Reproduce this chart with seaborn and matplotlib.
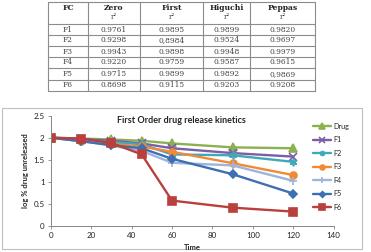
import matplotlib
matplotlib.use('Agg')
import matplotlib.pyplot as plt
from matplotlib.patches import Rectangle
import numpy as np
import pandas as pd
import seaborn as sb

# table of r^2 values
fc = ['F1', 'F2', 'F3', 'F4', 'F5', 'F6']
zero = ['0.9761', '0.9298', '0.9943', '0.9220', '0.9715', '0.8698']
first = ['0.9895', '0,8984', '0.9898', '0.9759', '0.9899', '0.9115']
higuchi = ['0.9899', '0.9524', '0.9948', '0.9587', '0.9892', '0.9203']
peppas = ['0.9820', '0.9697', '0.9979', '0.9615', '0,9869', '0.9208']
headers = ['FC', 'Zero', 'First', 'Higuchi', 'Peppas']

# first order release data
time = [0, 15, 30, 45, 60, 90, 120]
drug = [2.0, 1.98, 1.96, 1.93, 1.87, 1.78, 1.76]
f1 = [2.0, 1.97, 1.93, 1.87, 1.76, 1.65, 1.57]
f2 = [2.0, 1.95, 1.90, 1.85, 1.62, 1.60, 1.45]
f3 = [2.0, 1.92, 1.86, 1.80, 1.68, 1.42, 1.15]
f4 = [2.0, 1.93, 1.82, 1.70, 1.43, 1.37, 1.02]
f5 = [2.0, 1.92, 1.83, 1.76, 1.52, 1.17, 0.73]
f6 = [2.0, 1.98, 1.88, 1.62, 0.57, 0.41, 0.32]
series = ['Drug', 'F1', 'F2', 'F3', 'F4', 'F5', 'F6']

df = pd.DataFrame({'time': time, 'Drug': drug, 'F1': f1, 'F2': f2, 'F3': f3,
                   'F4': f4, 'F5': f5, 'F6': f6})
df = df.melt(id_vars='time', var_name='series', value_name='logpct')

colors = {'Drug': '#8bb150', 'F1': '#7b5ea7', 'F2': '#3fa8bd', 'F3': '#f08a35',
          'F4': '#9db4dc', 'F5': '#3e6fb3', 'F6': '#b9403c'}
markers = {'Drug': '^', 'F1': 'x', 'F2': (6, 2, 0), 'F3': 'o', 'F4': '+',
           'F5': 'D', 'F6': 's'}
msizes = {'Drug': 5.5, 'F1': 5.5, 'F2': 5.5, 'F3': 5, 'F4': 5.5, 'F5': 4.2, 'F6': 5.6}

sb.set_style('white')
plt.rcParams['font.family'] = ['Lato', 'DejaVu Sans']

fig = plt.figure(figsize=(3.71, 2.52), dpi=100)

# background layer in pixel coordinates for table and chart frame
bg = fig.add_axes([0, 0, 1, 1])
bg.set_xlim(0, 371)
bg.set_ylim(252, 0)
bg.axis('off')

gray = '#8c8c8c'
col_x = [48, 88, 140, 203, 250, 315]
row_y = [2, 24, 35, 46, 57, 68, 79.5, 91]
for x in col_x:
    bg.plot([x, x], [row_y[0], row_y[-1]], color=gray, lw=0.8)
for y in row_y:
    bg.plot([col_x[0], col_x[-1]], [y, y], color=gray, lw=0.8)

serif = ['DejaVu Serif']
centers = [(col_x[i] + col_x[i + 1]) / 2 for i in range(5)]
for i, h in enumerate(headers):
    bg.text(centers[i], 8, h, ha='center', va='center', fontsize=5.5,
            fontweight='bold', family=serif, color='#222222')
    if i > 0:
        bg.text(centers[i], 17, 'r²', ha='center', va='center', fontsize=5.3,
                family=serif, color='#444444')
cols = [fc, zero, first, higuchi, peppas]
for r in range(6):
    yc = (row_y[r + 1] + row_y[r + 2]) / 2
    for i, c in enumerate(cols):
        bg.text(centers[i], yc, c[r], ha='center', va='center', fontsize=5.4,
                family=serif, color='#444444')

bg.add_patch(Rectangle((2, 107.5), 359.5, 141.5, fill=False, ec='#bfbfbf', lw=0.8))

# chart
ax = fig.add_axes([0.1367, 0.1044, 0.7628, 0.4365])
ax.patch.set_alpha(0)
for s in series:
    sub = df[df['series'] == s]
    sb.lineplot(data=sub, x='time', y='logpct', ax=ax, color=colors[s],
                marker=markers[s], markersize=msizes[s], markeredgewidth=1.2,
                markeredgecolor=colors[s], lw=1.7, label=s)

ax.set_xlim(0, 140)
ax.set_ylim(0, 2.5)
ax.set_xticks(np.arange(0, 141, 20))
ax.set_yticks([0, 0.5, 1, 1.5, 2, 2.5])
ax.set_yticklabels(['0', '0.5', '1', '1.5', '2', '2.5'])
ax.tick_params(labelsize=5.8, length=2.5, width=0.6, color='#868686',
               colors='#222222', pad=2, direction='out')
ax.tick_params(axis='both', which='both', bottom=True, left=True)
for side in ['top', 'right']:
    ax.spines[side].set_visible(False)
for side in ['left', 'bottom']:
    ax.spines[side].set_color('#868686')
    ax.spines[side].set_linewidth(0.7)

ax.set_xlabel('Time', fontsize=5.5, fontweight='bold', labelpad=4)
ax.set_ylabel('log % drug unreleased', fontsize=5.5, fontweight='bold', labelpad=3)
fig.text(0.489, 0.52, 'First Order drug release kinetics', ha='center',
         va='center', fontsize=6.5, fontweight='bold')

ax.legend(loc='upper left', bbox_to_anchor=(0.835, 0.525),
          bbox_transform=fig.transFigure, frameon=False, fontsize=5.2,
          handlelength=2.6, handletextpad=0.2, labelspacing=0.9,
          markerscale=0.7, borderaxespad=0)

fig.savefig('out.png', dpi=100)
